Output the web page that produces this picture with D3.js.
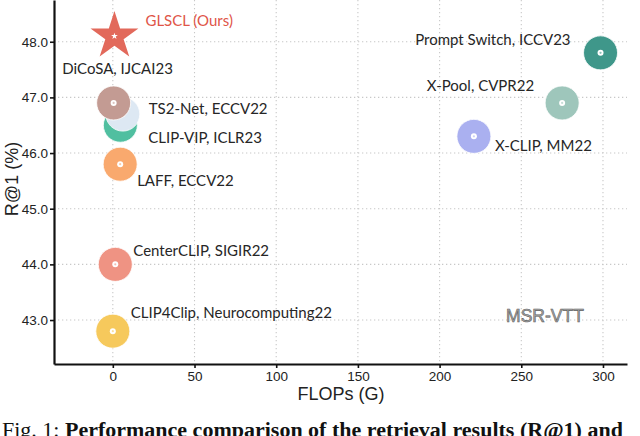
<!DOCTYPE html>
<html>
<head>
<meta charset="utf-8">
<script src="https://cdn.jsdelivr.net/npm/d3@7"></script>
<style>
  body { margin: 0; background: #fff; }
  svg { display: block; }
</style>
</head>
<body>
<div id="chart"></div>
<script>
// methods, GFLOPs and R@1 on MSR-VTT
var methods = ["CLIP4Clip, Neurocomputing22", "CenterCLIP, SIGIR22", "LAFF, ECCV22", "CLIP-VIP, ICLR23",
               "TS2-Net, ECCV22", "DiCoSA, IJCAI23", "X-CLIP, MM22", "X-Pool, CVPR22", "Prompt Switch, ICCV23",
               "GLSCL (Ours)"];
var flops = [0, 1.5, 4.5, 4.6, 6.1, 0.5, 221, 275, 298.5, 1];
var r1 = [42.8, 44.0, 45.8, 46.5, 46.7, 46.9, 46.3, 46.9, 47.8, 48.1];
var xTicks = [0, 50, 100, 150, 200, 250, 300];
var yTicks = [43, 44, 45, 46, 47, 48];

var colors = ["#f6c95c", "#ef9383", "#f9a96e", "#50bfa0", "#dde8f3", "#c39b93", "#aab0f0", "#9ec6bb", "#3f978a", "#e2695b"];
// label anchor, dx, dy relative to the marker
var labelPos = [
  ["start", 18, -13], ["start", 18, -8], ["start", 17, 22], ["start", 28, 18],
  ["start", 26, 0], ["middle", 4, -29], ["start", 21, 15], ["end", -28, -12],
  ["end", -30, -8], ["start", 31, -10]
];

var W = 640, H = 436;
var svg = d3.select("#chart").append("svg").attr("width", W).attr("height", H);

var x = d3.scaleLinear().domain([-36, 314.7]).range([54, 627]);
var y = d3.scaleLinear().domain([42.21, 48.75]).range([364, 0]);

// grid
svg.append("g").selectAll("line").data(xTicks).join("line")
  .attr("x1", d => x(d)).attr("x2", d => x(d)).attr("y1", 0).attr("y2", 364)
  .attr("stroke", "#c8c8c8").attr("stroke-width", 1.1).attr("stroke-dasharray", "1.3,2.7");
svg.append("g").selectAll("line").data(yTicks).join("line")
  .attr("x1", 54).attr("x2", 627).attr("y1", d => y(d)).attr("y2", d => y(d))
  .attr("stroke", "#c8c8c8").attr("stroke-width", 1.1).attr("stroke-dasharray", "1.3,2.7");

// axes
var xAxis = svg.append("g").attr("transform", "translate(0,364)")
  .call(d3.axisBottom(x).tickValues(xTicks).tickSize(4).tickPadding(3).tickSizeOuter(0));
var yAxis = svg.append("g").attr("transform", "translate(54,0)")
  .call(d3.axisLeft(y).tickValues(yTicks).tickFormat(d3.format(".1f")).tickSize(4).tickPadding(2).tickSizeOuter(0));
[xAxis, yAxis].forEach(function(a) {
  a.select(".domain").attr("stroke", "#111").attr("stroke-width", 2.2);
  a.selectAll(".tick line").attr("stroke", "#111").attr("stroke-width", 1.6);
  a.selectAll("text").attr("font-family", "Liberation Sans, Arial, sans-serif").attr("font-size", 13.5).attr("fill", "#222");
});

svg.append("text").attr("x", 341).attr("y", 400).attr("text-anchor", "middle")
  .attr("font-family", "Liberation Sans, Arial, sans-serif").attr("font-size", 18).attr("fill", "#222")
  .text("FLOPs (G)");
svg.append("text").attr("transform", "translate(18,179) rotate(-90)").attr("text-anchor", "middle")
  .attr("font-family", "Liberation Sans, Arial, sans-serif").attr("font-size", 18).attr("fill", "#222")
  .text("R@1 (%)");

// markers
var idx = d3.range(methods.length);
var ours = methods.length - 1;
var pts = svg.append("g");
idx.forEach(function(i) {
  var cx = x(flops[i]), cy = y(r1[i]);
  if (i === ours) {
    pts.append("path").attr("d", d3.symbol(d3.symbolStar, 712)())
      .attr("transform", "translate(" + cx + "," + cy + ")").attr("fill", colors[i]);
    pts.append("path").attr("d", d3.symbol(d3.symbolStar, 14)())
      .attr("transform", "translate(" + cx + "," + cy + ")").attr("fill", "#fff");
  } else {
    pts.append("circle").attr("cx", cx).attr("cy", cy).attr("r", 17)
      .attr("fill", colors[i]).attr("stroke", "#fff").attr("stroke-width", 0.8);
    pts.append("circle").attr("cx", cx).attr("cy", cy).attr("r", 3).attr("fill", "#fff");
    pts.append("circle").attr("cx", cx).attr("cy", cy).attr("r", 1.1).attr("fill", colors[i]).attr("opacity", 0.6);
  }
});

// labels
svg.append("g").selectAll("text").data(idx).join("text")
  .attr("x", i => x(flops[i]) + labelPos[i][1])
  .attr("y", i => y(r1[i]) + labelPos[i][2])
  .attr("text-anchor", i => labelPos[i][0])
  .attr("font-family", "Lato, sans-serif").attr("font-size", 15)
  .attr("fill", i => i === ours ? "#e05548" : "#262626")
  .text(i => methods[i]);

svg.append("text").attr("x", 545).attr("y", 322).attr("text-anchor", "middle")
  .attr("font-family", "Liberation Sans, Arial, sans-serif").attr("font-size", 17.5)
  .attr("fill", "#a8a8a8").attr("stroke", "#606060").attr("stroke-width", 0.6)
  .text("MSR-VTT");

// caption (cut by the bottom edge, as in the figure)
var cap = svg.append("text").attr("x", 2).attr("y", 437)
  .attr("font-family", "Liberation Serif, Times New Roman, serif").attr("font-size", 22).attr("fill", "#111");
cap.append("tspan").text("Fig. 1: ");
cap.append("tspan").attr("font-weight", "bold").text("Performance comparison of the retrieval results (R@1) and");
</script>
</body>
</html>
